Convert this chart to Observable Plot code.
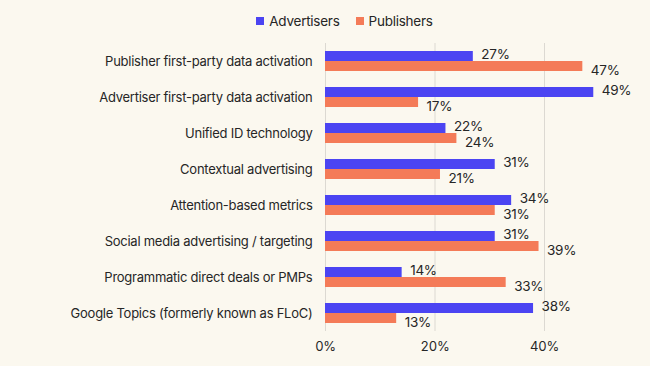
<!DOCTYPE html>
<html>
<head>
<meta charset="utf-8">
<script src="https://cdn.jsdelivr.net/npm/d3@7"></script>
<script src="https://cdn.jsdelivr.net/npm/@observablehq/plot@0.6"></script>
<style>
  html, body { margin: 0; padding: 0; background: #FBF8EF; }
  body { width: 650px; height: 366px; overflow: hidden; font-family: Inter, sans-serif; color: #262626; }
  #legend { height: 32px; display: flex; justify-content: center; align-items: center; gap: 16px; font-size: 13.5px; letter-spacing: -0.25px; padding-left: 39px; box-sizing: border-box; padding-top: 10px; }
  .item { display: flex; align-items: center; gap: 5px; }
  .sw { width: 8px; height: 8px; display: inline-block; }
  svg text { letter-spacing: -0.25px; }
</style>
</head>
<body>
<div id="legend"></div>
<div id="chart"></div>
<script>
const categories = [
  "Publisher first-party data activation",
  "Advertiser first-party data activation",
  "Unified ID technology",
  "Contextual advertising",
  "Attention-based metrics",
  "Social media advertising / targeting",
  "Programmatic direct deals or PMPs",
  "Google Topics (formerly known as FLoC)"
];
const series = ["Advertisers", "Publishers"];
const advertisers = [27, 49, 22, 31, 34, 31, 14, 38];
const publishers = [47, 17, 24, 21, 31, 39, 33, 13];
const xTicks = [0, 20, 40];
const colors = ["#4B44F2", "#F47B58"];

const data = [];
categories.forEach((c, i) => {
  data.push({category: c, series: series[0], value: advertisers[i]});
  data.push({category: c, series: series[1], value: publishers[i]});
});

const legend = document.getElementById("legend");
series.forEach((s, i) => {
  const it = document.createElement("div");
  it.className = "item";
  it.innerHTML = `<span class="sw" style="background:${colors[i]}"></span><span>${s}</span>`;
  legend.appendChild(it);
});

const font = "Inter, sans-serif";
const chart = Plot.plot({
  width: 650,
  height: 334,
  marginTop: 11,
  marginBottom: 35,
  marginLeft: 325,
  marginRight: 51.25,
  style: {background: "transparent", fontFamily: font, fontSize: "13px", color: "#262626"},
  x: {domain: [0, 50], ticks: xTicks, tickFormat: d => d + "%", tickSize: 0, tickPadding: 10, label: null},
  fy: {domain: categories, padding: 0, label: null, axis: "left", tickSize: 0, tickPadding: 13},
  y: {domain: series, axis: null, paddingInner: 0, paddingOuter: 0.8},
  color: {domain: series, range: colors},
  marks: [
    Plot.ruleX(xTicks, {stroke: "#DCD9D2", strokeWidth: 1}),
    Plot.barX(data, {x: "value", y: "series", fy: "category", fill: "series"}),
    Plot.text(data.filter(d => d.series === series[0]), {x: "value", y: "series", fy: "category", text: d => d.value + "%", textAnchor: "start", dx: 8, dy: -1.5, fill: "#262626", fontSize: 13.5}),
    Plot.text(data.filter(d => d.series === series[1]), {x: "value", y: "series", fy: "category", text: d => d.value + "%", textAnchor: "start", dx: 8, dy: 4, fill: "#262626", fontSize: 13.5})
  ]
});
document.getElementById("chart").appendChild(chart);
</script>
</body>
</html>
